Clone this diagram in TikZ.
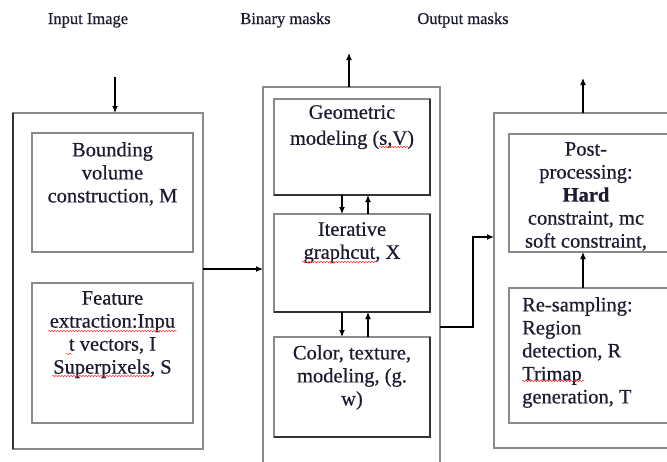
\documentclass[tikz,border=0pt]{standalone}
\usepackage{fontspec}
\setmainfont{Liberation Serif}
\newfontfamily\heavy[FakeBold=0.5]{Liberation Serif}
\usetikzlibrary{arrows.meta,decorations.pathmorphing}
\definecolor{boxgray}{HTML}{8A8A8A}
\definecolor{darkedge}{HTML}{333333}
\definecolor{txt}{HTML}{1C1C30}
\begin{document}
\begin{tikzpicture}[x=1pt,y=-1pt,
  box/.style={draw=boxgray,line width=1.3pt,inner sep=0pt,outer sep=0pt},
  arr/.style={draw=black,line width=1.2pt,-{Latex[length=7pt,width=6pt]}},
  lbl/.style={font=\heavy\fontsize{16.5}{20}\selectfont,text=txt,inner sep=0pt},
  btxt/.style={font=\heavy\fontsize{20.5}{23}\selectfont,text=txt,inner sep=0pt,align=center,anchor=north},
  squig/.style={draw=red!80,line width=0.5pt,decorate,decoration={snake,amplitude=0.7pt,segment length=3pt}}]
\useasboundingbox (0,0) rectangle (667,461);
\clip (0,0) rectangle (667,461);
\fill[white] (0,0) rectangle (667,461);

% boxes
\node[box,minimum width=190pt,minimum height=336pt] (L) at (108,281) {};
\node[box,minimum width=161pt,minimum height=119pt] (B1) at (112.5,192.5) {};
\node[box,minimum width=161pt,minimum height=140pt] (F) at (112.5,353) {};
\node[box,minimum width=177pt,minimum height=393pt] (M) at (351.5,283.5) {};
\node[box,minimum width=156pt,minimum height=96pt] (G) at (352,147) {};
\node[box,minimum width=156pt,minimum height=98pt] (I) at (352,263) {};
\node[box,minimum width=156pt,minimum height=100pt] (C) at (352,387) {};
\node[box,minimum width=206pt,minimum height=335pt] (R) at (597,280.5) {};
\node[box,minimum width=176pt,minimum height=118pt] (P) at (597,193) {};
\node[box,minimum width=176pt,minimum height=135pt] (S) at (597,355.5) {};

% darker edges
\draw[darkedge,line width=1.6pt] (L.north west) -- (L.south west);
\foreach \b in {G,I,C} {
  \draw[darkedge,line width=1.3pt] (\b.north east) -- (\b.south east) -- (\b.south west);
}

% coordinates
\coordinate (inTop) at (115,77);
\coordinate (bmTop) at (349,53);
\coordinate (omTop) at (583,78);
\coordinate (y269) at (0,269);
\coordinate (y327) at (0,327);
\coordinate (bend) at (473,237);

% connectors
\draw[arr] (inTop) -- (inTop |- L.north);
\draw[arr] (L.east |- y269) -- (M.west |- y269);
\draw[arr] (bmTop |- M.north) -- (bmTop);
\draw[arr] ([xshift=-10pt]G.south) -- ([xshift=-10pt]I.north);
\draw[arr] ([xshift=16pt]I.north) -- ([xshift=16pt]G.south);
\draw[arr] ([xshift=-10pt]I.south) -- ([xshift=-10pt]C.north);
\draw[arr] ([xshift=16pt]C.north) -- ([xshift=16pt]I.south);
\draw[arr] (M.east |- y327) -| (bend) -- (R.west |- bend);
\draw[arr] (omTop |- R.north) -- (omTop);
\draw[arr] (S.north -| omTop) -- (P.south -| omTop);

% labels
\node[lbl,anchor=base] (t1) at (88,24) {Input Image};
\node[lbl,anchor=base] (t2) at (285.5,24) {Binary masks};
\node[lbl,anchor=base] (t3) at (463,24) {Output masks};

% box texts
\node[btxt] (tb1) at (112.5,142) {Bounding\\volume\\construction, M};
\node[btxt] (tf) at (112.5,291) {Feature\\extraction:Inpu\\t vectors, I\\Superpixels, S};
\node[btxt,font=\heavy\fontsize{20.5}{26}\selectfont] (tg) at (352,105) {Geometric\\modeling (s,V)};
\node[btxt] (ti) at (352,222) {Iterative\\graphcut, X};
\node[btxt] (tc) at (352,345) {Color, texture,\\modeling, (g.\\w)};
\node[btxt] (tp) at (586,142) {Post-\\processing:\\\textbf{Hard}\\constraint, mc\\soft constraint,};
\node[btxt,align=left,anchor=north west] (ts) at (522,297) {Re-sampling:\\Region\\detection, R\\Trimap\\generation, T};

% spell-check squiggles
\draw[squig] (48,331) -- (177,331);
\draw[squig] (66,354) -- (72,354);
\draw[squig] (52,376) -- (152,376);
\draw[squig] (379,147) -- (408,147);
\draw[squig] (302,262) -- (376,262);
\draw[squig] (522,381) -- (584,381);
\end{tikzpicture}
\end{document}
